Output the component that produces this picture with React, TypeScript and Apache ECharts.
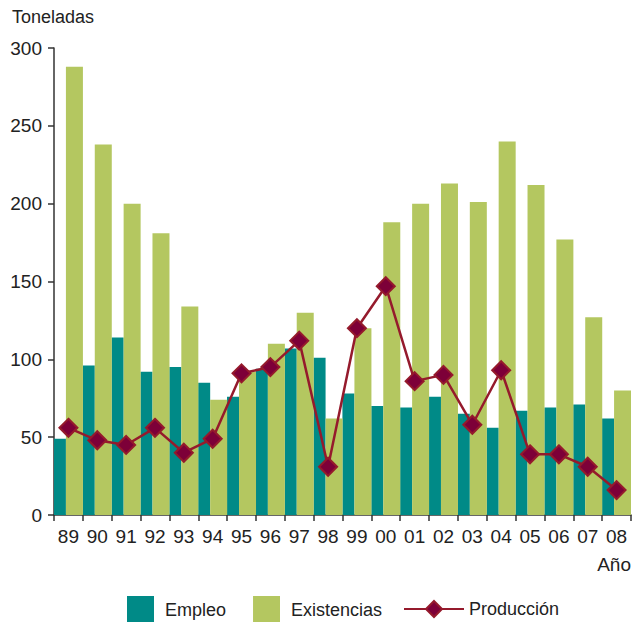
import React, { useEffect, useRef } from "react";
import * as echarts from "echarts";

const categories = ["89", "90", "91", "92", "93", "94", "95", "96", "97", "98", "99", "00", "01", "02", "03", "04", "05", "06", "07", "08"];
const empleo = [49, 96, 114, 92, 95, 85, 76, 94, 107, 101, 78, 70, 69, 76, 65, 56, 67, 69, 71, 62];
const existencias = [288, 238, 200, 181, 134, 74, 92, 110, 130, 62, 120, 188, 200, 213, 201, 240, 212, 177, 127, 80];
const produccion = [56, 48, 45, 56, 40, 49, 91, 95, 112, 31, 120, 147, 86, 90, 58, 93, 39, 39, 31, 16];
const yTicks = { min: 0, max: 300, interval: 50 };

const FONT = "'Liberation Sans Narrow', 'Arial Narrow', 'Liberation Sans', sans-serif";
const TEAL = "#008a87";
const GREEN = "#b4c760";
const RED = "#951a2c";
const MARKER = "#7d0038";
const AXIS = "#333333";
const TEXT = "#222222";

export default function App() {
  const ref = useRef<HTMLDivElement>(null);
  useEffect(() => {
    if (!ref.current) return;
    const chart = echarts.init(ref.current, null, { renderer: "svg" });
    chart.setOption({
      animation: false,
      backgroundColor: "#ffffff",
      grid: { left: 54, right: 1, top: 48, bottom: 107, containLabel: false },
      xAxis: {
        type: "category",
        data: categories,
        boundaryGap: true,
        axisLine: { show: true, lineStyle: { color: AXIS, width: 1.5 } },
        axisTick: { show: true, length: 6, alignWithLabel: false, lineStyle: { color: AXIS, width: 1.5 } },
        axisLabel: { color: TEXT, fontSize: 19, fontFamily: FONT, margin: 12, interval: 0 },
        splitLine: { show: false },
      },
      yAxis: {
        type: "value",
        min: yTicks.min,
        max: yTicks.max,
        interval: yTicks.interval,
        axisLine: { show: true, lineStyle: { color: AXIS, width: 1.5 } },
        axisTick: { show: true, length: 6, lineStyle: { color: AXIS, width: 1.5 } },
        axisLabel: { color: TEXT, fontSize: 19, fontFamily: FONT, margin: 12 },
        splitLine: { show: false },
      },
      legend: [
        {
          data: ["Empleo", "Existencias"],
          left: 122,
          top: 591,
          itemWidth: 27,
          itemHeight: 27,
          itemGap: 27,
          icon: "rect",
          textStyle: { color: TEXT, fontSize: 18, fontFamily: FONT, padding: [0, 0, 0, 6] },
        },
        {
          data: ["Producción"],
          left: 398,
          top: 595,
          itemWidth: 60,
          itemHeight: 20,
          textStyle: { color: TEXT, fontSize: 18, fontFamily: FONT, padding: [0, 0, 0, 0] },
        },
      ],
      graphic: [
        { type: "text", left: 12, top: 8, style: { text: "Toneladas", fontSize: 18, fontFamily: FONT, fill: TEXT } },
        { type: "text", right: 1, top: 555, style: { text: "Año", fontSize: 19, fontFamily: FONT, fill: TEXT } },
      ],
      series: [
        {
          name: "Empleo",
          type: "bar",
          data: empleo,
          barWidth: 12,
          barGap: "0%",
          barCategoryGap: "0%",
          itemStyle: { color: TEAL },
        },
        {
          name: "Existencias",
          type: "bar",
          data: existencias,
          barWidth: 17,
          barGap: "0%",
          barCategoryGap: "0%",
          itemStyle: { color: GREEN },
        },
        {
          name: "Producción",
          type: "line",
          data: produccion,
          symbol: "diamond",
          symbolSize: 18,
          lineStyle: { color: RED, width: 2.5 },
          itemStyle: { color: MARKER, borderColor: RED, borderWidth: 2 },
          z: 5,
        },
      ],
    });
    return () => chart.dispose();
  }, []);
  return <div ref={ref} style={{ width: 632, height: 622, position: "absolute", left: 0, top: 0 }} />;
}
